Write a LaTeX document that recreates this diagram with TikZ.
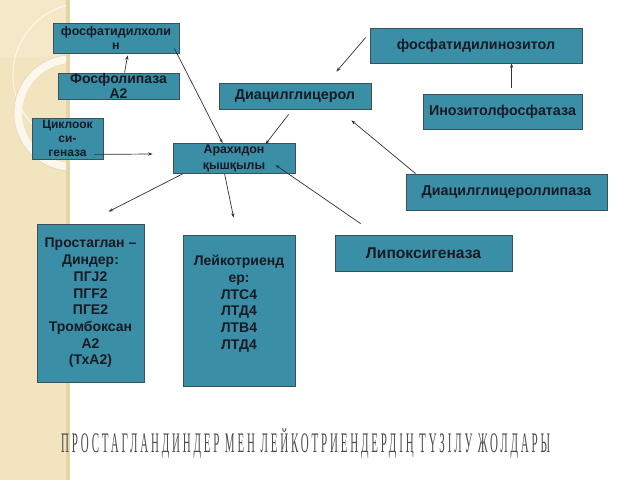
\documentclass[tikz,border=0pt]{standalone}
\usepackage{fontspec}
\setmainfont{Liberation Sans}
\newfontfamily\titlefont[LetterSpace=26]{Liberation Serif}
\usetikzlibrary{arrows.meta,calc}
\definecolor{boxfill}{RGB}{58,142,166}
\definecolor{boxline}{RGB}{60,80,88}
\definecolor{txt}{RGB}{24,26,36}
\definecolor{band}{RGB}{242,228,190}
\definecolor{bandedge}{RGB}{228,212,168}
\definecolor{arrc}{RGB}{50,50,55}
\tikzset{
  box/.style={draw=boxline, fill=boxfill, line width=0.8pt, inner sep=0pt,
    align=center, text=txt, font=\bfseries\fontsize{14.3}{15.5}\selectfont},
  smallbox/.style={box, font=\bfseries\fontsize{12.5}{14.5}\selectfont},
  listbox/.style={box, font=\bfseries\fontsize{14}{16.7}\selectfont},
  arr/.style={draw=arrc, line width=0.7pt, -{Stealth[length=4.5pt,width=3.2pt]}}
}
\begin{document}
\begin{tikzpicture}[x=1pt,y=-1pt]
\useasboundingbox (0,0) rectangle (640,480);
\fill[white] (0,0) rectangle (640,480);
% decorative band
\fill[band] (0,0) rectangle (70,480);
\fill[bandedge] (66,0) rectangle (70,480);
\begin{scope}
  \clip (0,0) rectangle (66,480);
  \fill[white,opacity=0.18] (0,0) rectangle (66,57);
  \draw[white,opacity=0.7,line width=1pt] (85,75) circle[radius=72];
  \draw[white!70!band,line width=8pt] (72,113) circle[radius=54];
  \draw[bandedge!80!black,opacity=0.3,line width=0.6pt] (72,113) circle[radius=58];
\end{scope}
% boxes
\node[smallbox, minimum width=126pt, minimum height=30pt] (pchol) at (116,38) {фосфатидилхоли\\н};
\node[box, minimum width=121pt, minimum height=26pt, font=\bfseries\fontsize{14}{15}\selectfont] (lipA) at (118.5,86) {Фосфолипаза\\А2};
\node[smallbox, minimum width=71pt, minimum height=41pt, font=\bfseries\fontsize{12}{14}\selectfont] (cyclo) at (67.5,138.5) {Циклоок\\си-\\геназа};
\node[smallbox, minimum width=122pt, minimum height=30pt, font=\bfseries\fontsize{12.4}{15.5}\selectfont] (arach) at (234,158.5) {Арахидон\\қышқылы};
\node[box, minimum width=152pt, minimum height=26pt] (diac) at (295,96) {Диацилглицерол};
\node[box, minimum width=212pt, minimum height=35pt] (pinoz) at (476,45.5) {фосфатидилинозитол};
\node[box, minimum width=159pt, minimum height=35pt] (inoz) at (502.5,111.5) {Инозитолфосфатаза};
\node[box, minimum width=201pt, minimum height=36pt] (dlip) at (506.5,192) {Диацилглицероллипаза};
\node[listbox, minimum width=107pt, minimum height=158pt] (prost) at (90.5,303)
  {Простаглан --\\Диндер:\\ПГJ2\\ПГF2\\ПГЕ2\\Тромбоксан\\А2\\(ТхА2)};
\node[listbox, minimum width=112pt, minimum height=151pt] (leuk) at (239,310.5)
  {Лейкотриенд\\ер:\\ЛТС4\\ЛТД4\\ЛТВ4\\ЛТД4\\\mbox{}};
\node[box, minimum width=177pt, minimum height=36pt, font=\bfseries\fontsize{15.6}{17}\selectfont] (lipox) at (423.5,253) {Липоксигеназа};
% connectors
\draw[arr] ($(lipA.north west)+(67,0)$) -- ($(pchol.south west)+(75,2)$);
\draw[arr] ($(pchol.south east)+(-5,-5)$) -- ($(arach.north west)+(50,0)$);
\draw[arr] ($(cyclo.south east)+(-9,-5)$) -- ($(arach.west)+(-20,-4.5)$);
\draw[arr] ($(diac.south west)+(70,5)$) -- ($(arach.north west)+(93,1)$);
\draw[arr] ($(pinoz.north west)+(-4,10)$) -- ($(diac.north east)+(-35,-11)$);
\draw[arr] ($(inoz.north west)+(89,-6)$) -- ($(pinoz.south west)+(142,0)$);
\draw[arr] ($(dlip.north west)+(10,0)$) -- ($(diac.south east)+(-20,11)$);
\draw[arr] ($(arach.south west)+(10,0)$) -- ($(prost.north west)+(72,-12)$);
\draw[arr] ($(arach.south west)+(52,0)$) -- ($(leuk.north west)+(51,-17)$);
\draw[arr] ($(lipox.north west)+(26,-11)$) -- ($(arach.south east)+(-20,-9)$);
% title
\node[anchor=base west, inner sep=0pt, text=black!70] (title) at (61,452)
  {\resizebox{489pt}{24pt}{\titlefont ПРОСТАГЛАНДИНДЕР МЕН ЛЕЙКОТРИЕНДЕРДІҢ ТҮЗІЛУ ЖОЛДАРЫ}};
\end{tikzpicture}
\end{document}
